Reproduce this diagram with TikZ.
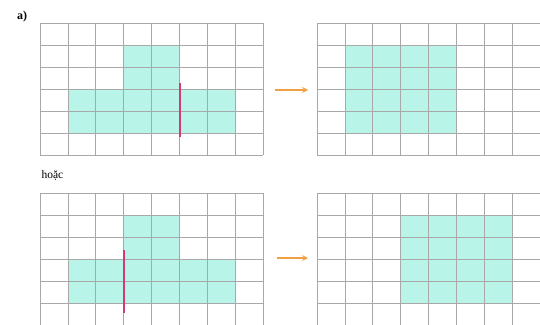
\documentclass[tikz,border=0pt]{standalone}
\usepackage{fontspec}
\setmainfont{Liberation Serif}
\usepackage{xcolor}
\definecolor{cellfill}{HTML}{B8F4E8}
\definecolor{gridgray}{HTML}{A8A8A8}
\definecolor{cutred}{HTML}{D23A78}
\definecolor{arrorange}{HTML}{F0A040}

\begin{document}
\begin{tikzpicture}[x=1pt, y=-1pt, >=stealth,
    gridln/.style={gridgray, line width=0.8pt},
    area/.style={fill=cellfill},
    cutline/.style={cutred, line width=1.8pt},
    movearrow/.style={->, arrorange, line width=1.6pt}]
  \useasboundingbox (0,0) rectangle (540,324);
  \def\cw{27.9}
  \def\ch{22}
  % shaded cells, before cutting
  \fill[area] (123.7,45) rectangle (179.5,89);
  \fill[area] (67.9,89) rectangle (235.4,133);
  \fill[area] (123.7,215) rectangle (179.5,259);
  \fill[area] (67.9,259) rectangle (235.4,303);
  % shaded cells, after moving the piece
  \fill[area] (344.9,45) rectangle (456.5,133);
  \fill[area] (400.7,215) rectangle (512.3,303);
  % the four grids
  \foreach \gx/\gy in {40/23, 317/23, 40/193, 317/193} {
    \foreach \i in {0,...,8}
      \draw[gridln] ({\gx+\i*\cw},\gy) -- ({\gx+\i*\cw},{\gy+6*\ch});
    \foreach \j in {0,...,6}
      \draw[gridln] (\gx,{\gy+\j*\ch}) -- ({\gx+8*\cw},{\gy+\j*\ch});
  }
  % cut lines
  \draw[cutline] (180,83) -- (180,137);
  \draw[cutline] (124,250) -- (124,313);
  % arrows
  \coordinate (fromA) at (275,90);
  \coordinate (toA) at (308,90);
  \coordinate (fromB) at (277,258);
  \coordinate (toB) at (308,258);
  \draw[movearrow] (fromA) -- (toA);
  \draw[movearrow] (fromB) -- (toB);
  % labels
  \node[font=\fontsize{12}{14}\selectfont\bfseries] (parta) at (22,17) {a)};
  \node[font=\fontsize{11.5}{13}\selectfont, anchor=west] (hoac) at (38,175) {hoặc};
\end{tikzpicture}
\end{document}
